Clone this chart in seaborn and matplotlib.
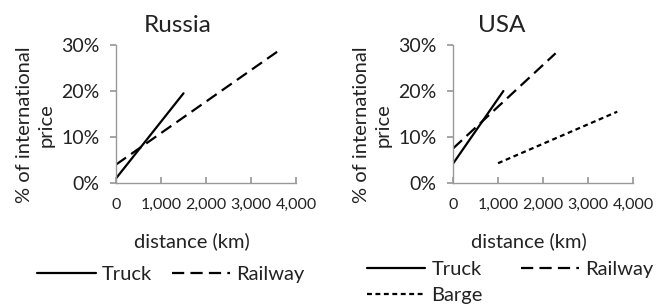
import matplotlib
matplotlib.use("Agg")
import matplotlib.pyplot as plt
import seaborn as sns
import pandas as pd
from matplotlib.ticker import PercentFormatter, FuncFormatter

# Line end points (distance km, % of international price)
russia_truck_km = [0, 1500]
russia_truck_pct = [1.0, 19.5]
russia_rail_km = [0, 3650]
russia_rail_pct = [4.0, 29.0]

usa_truck_km = [0, 1120]
usa_truck_pct = [4.2, 20.0]
usa_rail_km = [0, 2280]
usa_rail_pct = [7.5, 28.2]
usa_barge_km = [1000, 3650]
usa_barge_pct = [4.3, 15.5]

x_ticks = [0, 1000, 2000, 3000, 4000]
y_ticks = [0, 10, 20, 30]

sns.set_theme(style="white")
plt.rcParams['font.family'] = ['Lato', 'DejaVu Sans']

fig = plt.figure(figsize=(6.56, 3.08), dpi=100)
W, H = 656, 308

def make_axes(left_px):
    return fig.add_axes([left_px / W, 1 - 183 / H, 180 / W, (183 - 45) / H])

ax1 = make_axes(116)
ax2 = make_axes(453)

styles = {
    "Truck": dict(linestyle="-"),
    "Railway": dict(linestyle=(0, (5.5, 2.8))),
    "Barge": dict(linestyle=(0, (2.2, 1.6))),
}

def draw(ax, series):
    for name, km, pct in series:
        df = pd.DataFrame({"km": km, "pct": pct})
        sns.lineplot(data=df, x="km", y="pct", ax=ax, color="black",
                     linewidth=1.6, label=name, **styles[name])

draw(ax1, [("Truck", russia_truck_km, russia_truck_pct),
           ("Railway", russia_rail_km, russia_rail_pct)])
draw(ax2, [("Truck", usa_truck_km, usa_truck_pct),
           ("Railway", usa_rail_km, usa_rail_pct),
           ("Barge", usa_barge_km, usa_barge_pct)])

for ax, title, tx in [(ax1, "Russia", 0.344), (ax2, "USA", 0.27)]:
    ax.set_xlim(0, 4000)
    ax.set_ylim(0, 30)
    ax.set_xticks(x_ticks)
    ax.set_yticks(y_ticks)
    ax.xaxis.set_major_formatter(FuncFormatter(lambda v, p: f"{int(v):,}"))
    ax.yaxis.set_major_formatter(PercentFormatter(decimals=0))
    for s in ["top", "right"]:
        ax.spines[s].set_visible(False)
    for s in ["left", "bottom"]:
        ax.spines[s].set_color("#999999")
        ax.spines[s].set_linewidth(1.0)
    ax.tick_params(axis="y", which="major", direction="out", length=4,
                   color="#999999", left=True, labelsize=14, pad=8,
                   labelcolor="#222222")
    ax.tick_params(axis="x", which="major", direction="in", length=4,
                   color="#999999", bottom=True, labelsize=11.5, pad=11,
                   labelcolor="#222222")
    ax.set_xlabel("distance (km)", fontsize=14.5, color="#222222")
    ax.xaxis.set_label_coords(0.42, -0.36)
    ax.set_ylabel("% of international\nprice", fontsize=14.5,
                  linespacing=1.35, color="#222222")
    ax.yaxis.set_label_coords(-0.34, 0.42)
    ax.text(tx, 1.14, title, transform=ax.transAxes, ha="center",
            va="center", fontsize=17.5, color="#222222")
    ax.get_legend().remove()

# legends below each panel
h1, l1 = ax1.get_legend_handles_labels()
fig.legend(h1, l1, loc="center", bbox_to_anchor=(171 / W, 1 - 274 / H),
           ncol=2, frameon=False, fontsize=14.5, handlelength=2.9,
           handletextpad=0.3, columnspacing=1.0, labelcolor="#222222")
h2, l2 = ax2.get_legend_handles_labels()
# column-major fill: Truck / Barge in first column, Railway in second
order = [0, 2, 1]
fig.legend([h2[i] for i in order], [l2[i] for i in order], loc="upper left",
           bbox_to_anchor=(367 / W, 1 - 261 / H), ncol=2, frameon=False,
           fontsize=14.5, handlelength=2.9, handletextpad=0.3,
           columnspacing=1.9, labelspacing=0.45, borderpad=0.0,
           borderaxespad=0.0, labelcolor="#222222")

plt.savefig("out.png", dpi=100)
